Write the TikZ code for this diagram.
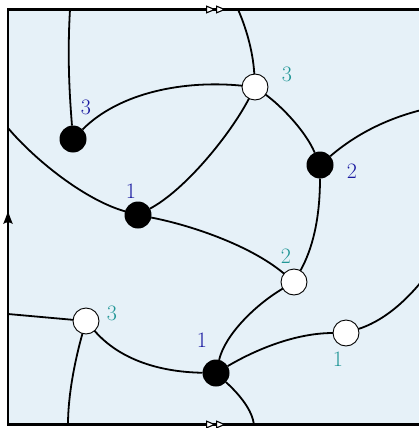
\documentclass[tikz,border=0pt]{standalone}
\usetikzlibrary{arrows.meta}
\definecolor{bgblue}{RGB}{230,241,248}
\definecolor{lblblue}{RGB}{25,25,160}
\definecolor{lblteal}{RGB}{32,150,150}
\begin{document}
\begin{tikzpicture}[x=1pt,y=-1pt,
  blackv/.style={circle,fill=black,minimum size=27pt,inner sep=0pt,outer sep=0pt},
  whitev/.style={circle,fill=white,draw=black,line width=0.9pt,minimum size=26pt,inner sep=0pt,outer sep=0pt},
  edge/.style={line width=1.8pt},
  frame/.style={line width=2.4pt},
  lblfont/.style={font=\fontsize{22}{26}\selectfont,inner sep=0pt},
  lb/.style={lblfont,text=lblblue},
  lt/.style={lblfont,text=lblteal},
  dbl/.style={-{Triangle[fill=white,length=10pt,width=8pt,line width=1.1pt] Triangle[fill=white,length=10pt,width=8pt,line width=1.1pt]}}]
\useasboundingbox (0,0) rectangle (419,428);
\clip (0,0) rectangle (419,428);
\fill[bgblue] (8,9.5) rectangle (440,424.5);

% frame boundary points
\coordinate (t1) at (70,9.5);
\coordinate (t2) at (238,9.5);
\coordinate (b1) at (68,424.5);
\coordinate (b2) at (254,424.5);
\coordinate (l1) at (8,128);
\coordinate (l2) at (8,314);
\coordinate (r1) at (440,106);
\coordinate (r2) at (432,268);

% vertices
\node[blackv] (A) at (73,139) {};
\node[whitev] (B) at (255,87) {};
\node[blackv] (C) at (320,165) {};
\node[blackv] (D) at (138,215) {};
\node[whitev] (E) at (294,282) {};
\node[whitev] (F) at (86,321) {};
\node[blackv] (G) at (216,373) {};
\node[whitev] (H) at (346,333) {};

% labels
\node[lb] (lA) at (86,107) {3};
\node[lt] (lB) at (287,74) {3};
\node[lb] (lC) at (352,171) {2};
\node[lb] (lD) at (131,191) {1};
\node[lt] (lE) at (286,256) {2};
\node[lt] (lF) at (112,313) {3};
\node[lb] (lG) at (202,340) {1};
\node[lt] (lH) at (338,359) {1};

% edges
\draw[edge] (t1) .. controls (67,60) and (70,100) .. (A);
\draw[edge] (A) .. controls (120,92) and (185,80) .. (B);
\draw[edge] (B) .. controls (253,50) and (245,25) .. (t2);
\draw[edge] (B) .. controls (230,135) and (185,190) .. (D);
\draw[edge] (B) .. controls (280,105) and (305,130) .. (C);
\draw[edge] (C) .. controls (355,135) and (390,115) .. (r1);
\draw[edge] (C) .. controls (320,220) and (312,250) .. (E);
\draw[edge] (l1) .. controls (35,160) and (85,200) .. (D);
\draw[edge] (D) .. controls (190,225) and (250,245) .. (E);
\draw[edge] (E) .. controls (255,305) and (225,335) .. (G);
\draw[edge] (l2) -- (F);
\draw[edge] (F) .. controls (75,360) and (68,395) .. (b1);
\draw[edge] (F) .. controls (120,360) and (160,372) .. (G);
\draw[edge] (G) .. controls (255,350) and (295,333) .. (H);
\draw[edge] (H) .. controls (380,322) and (405,305) .. (r2);
\draw[edge] (G) .. controls (240,395) and (252,410) .. (b2);

% frame
\draw[frame,line join=miter] (440,9.5) -- (8,9.5) -- (8,424.5) -- (440,424.5);
\coordinate (mt0) at (195,9.5);
\coordinate (mt1) at (226,9.5);
\coordinate (mb0) at (195,424.5);
\coordinate (mb1) at (226,424.5);
\coordinate (ml1) at (8,211);
\draw[frame,dbl] (mt0) -- (mt1);
\draw[frame,dbl] (mb0) -- (mb1);
\fill (ml1) .. controls (9.5,216) and (11.5,220.5) .. (12.8,224)
  .. controls (11,222.8) and (9.5,222.3) .. (8,222.3)
  .. controls (6.5,222.3) and (5,222.8) .. (3.2,224)
  .. controls (4.5,220.5) and (6.5,216) .. (ml1) -- cycle;
\end{tikzpicture}
\end{document}
